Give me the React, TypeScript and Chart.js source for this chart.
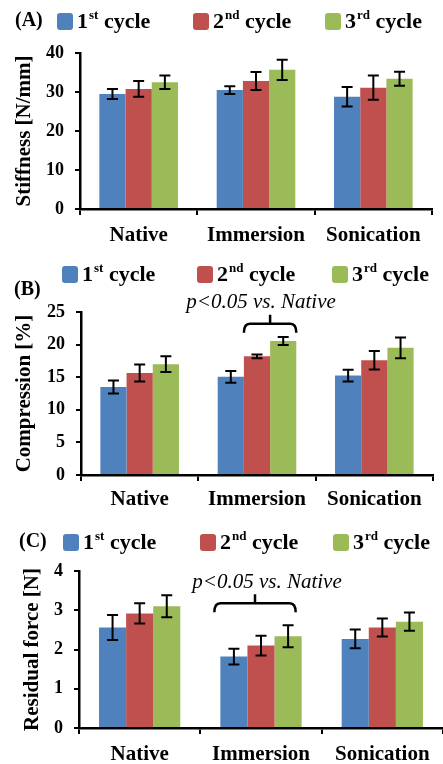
import React, { useEffect, useRef } from 'react';
import { Chart, registerables } from 'chart.js';
Chart.register(...registerables);

const SERIF = "'Liberation Serif', 'Times New Roman', serif";

const categories = ['Native', 'Immersion', 'Sonication'];
const cycleMain = ['1', '2', '3'];
const cycleSup = ['st', 'nd', 'rd'];
const cycleRest = ' cycle';
const seriesColors = ['#4F81BD', '#C0504D', '#9BBB59'];

// (A) Stiffness [N/mm]
const stiffCycle1 = [29.5, 30.5, 28.8];
const stiffCycle2 = [30.8, 32.8, 31.1];
const stiffCycle3 = [32.5, 35.7, 33.4];
const stiffErr1 = [1.3, 1.0, 2.5];
const stiffErr2 = [2.0, 2.3, 3.1];
const stiffErr3 = [1.7, 2.6, 1.8];
const stiffTicks = [0, 10, 20, 30, 40];

// (B) Compression [%]
const compCycle1 = [13.5, 15.05, 15.25];
const compCycle2 = [15.65, 18.2, 17.6];
const compCycle3 = [17.0, 20.55, 19.5];
const compErr1 = [1.0, 0.9, 0.9];
const compErr2 = [1.3, 0.3, 1.4];
const compErr3 = [1.2, 0.6, 1.6];
const compTicks = [0, 5, 10, 15, 20, 25];

// (C) Residual force [N]
const resCycle1 = [2.56, 1.82, 2.27];
const resCycle2 = [2.92, 2.1, 2.56];
const resCycle3 = [3.1, 2.34, 2.71];
const resErr1 = [0.32, 0.2, 0.24];
const resErr2 = [0.26, 0.25, 0.23];
const resErr3 = [0.28, 0.28, 0.23];
const resTicks = [0, 1, 2, 3, 4];

const annotationText = 'p<0.05 vs. Native';

type PanelSpec = {
  tag: string;
  title: string;
  top: number;
  height: number;
  area: { top: number; bottom: number; left: number; right: number };
  ticks: number[];
  values: number[][];
  errors: number[][];
  tagPos: { x: number; y: number };
  legendY: number;
  legendX: number[];
  titleX: number;
  labelPad: number;
  annot?: { cat: number; from: number; to: number; y: number; dx: number; shiftX: number };
};

const panels: PanelSpec[] = [
  {
    tag: '(A)', title: 'Stiffness [N/mm]', top: 0, height: 245,
    area: { top: 53, bottom: 209, left: 80, right: 432 },
    ticks: stiffTicks,
    values: [stiffCycle1, stiffCycle2, stiffCycle3],
    errors: [stiffErr1, stiffErr2, stiffErr3],
    tagPos: { x: 15, y: 21 }, legendY: 21, legendX: [57, 193, 325], titleX: 25, labelPad: 8,
  },
  {
    tag: '(B)', title: 'Compression [%]', top: 245, height: 267,
    area: { top: 67, bottom: 230, left: 81, right: 433 },
    ticks: compTicks,
    values: [compCycle1, compCycle2, compCycle3],
    errors: [compErr1, compErr2, compErr3],
    tagPos: { x: 14, y: 45 }, legendY: 29, legendX: [62, 197, 332], titleX: 25, labelPad: 6,
    annot: { cat: 1, from: 1, to: 2, y: 23.2, dx: -9, shiftX: 0 },
  },
  {
    tag: '(C)', title: 'Residual force [N]', top: 512, height: 252,
    area: { top: 59, bottom: 216, left: 79, right: 443 },
    ticks: resTicks,
    values: [resCycle1, resCycle2, resCycle3],
    errors: [resErr1, resErr2, resErr3],
    tagPos: { x: 19, y: 30 }, legendY: 30, legendX: [63, 200, 333], titleX: 33, labelPad: 8,
    annot: { cat: 1, from: 0, to: 2, y: 3.18, dx: 12, shiftX: -6 },
  },
];

function makePlugin(spec: PanelSpec) {
  return {
    id: 'panelExtras' + spec.tag,
    afterDatasetsDraw(chart: any) {
      const ctx = chart.ctx;
      const yScale = chart.scales.y;
      ctx.save();
      ctx.strokeStyle = '#000';
      ctx.lineWidth = 2;
      spec.values.forEach((vals, di) => {
        const meta = chart.getDatasetMeta(di);
        meta.data.forEach((el: any, ci: number) => {
          const v = vals[ci];
          const e = spec.errors[di][ci];
          const yt = yScale.getPixelForValue(v + e);
          const yb = yScale.getPixelForValue(v - e);
          ctx.beginPath();
          ctx.moveTo(el.x, yt);
          ctx.lineTo(el.x, yb);
          ctx.moveTo(el.x - 5.5, yt);
          ctx.lineTo(el.x + 5.5, yt);
          ctx.moveTo(el.x - 5.5, yb);
          ctx.lineTo(el.x + 5.5, yb);
          ctx.stroke();
        });
      });
      ctx.restore();
    },
    afterDraw(chart: any) {
      const ctx = chart.ctx;
      ctx.save();
      // tag
      ctx.fillStyle = '#000';
      ctx.textBaseline = 'middle';
      ctx.textAlign = 'left';
      ctx.font = `bold 20px ${SERIF}`;
      ctx.fillText(spec.tag, spec.tagPos.x, spec.tagPos.y);
      // legend
      spec.legendX.forEach((lx, i) => {
        const y = spec.legendY;
        ctx.fillStyle = seriesColors[i];
        ctx.beginPath();
        (ctx as any).roundRect(lx, y - 8, 16, 17, 3);
        ctx.fill();
        ctx.fillStyle = '#000';
        let x = lx + 20;
        ctx.font = `bold 22px ${SERIF}`;
        ctx.fillText(cycleMain[i], x, y + 1);
        x += ctx.measureText(cycleMain[i]).width + 1;
        ctx.font = `bold 13px ${SERIF}`;
        ctx.fillText(cycleSup[i], x, y - 5);
        x += ctx.measureText(cycleSup[i]).width;
        ctx.font = `bold 22px ${SERIF}`;
        ctx.fillText(cycleRest, x, y + 1);
      });
      // annotation
      if (spec.annot) {
        const a = spec.annot;
        const yScale = chart.scales.y;
        const e1 = chart.getDatasetMeta(a.from).data[a.cat] as any;
        const e2 = chart.getDatasetMeta(a.to).data[a.cat] as any;
        const x1 = e1.x - e1.width / 2 + a.shiftX;
        const x2 = e2.x + e2.width / 2 + a.shiftX;
        const y = yScale.getPixelForValue(a.y);
        const cx = (x1 + x2) / 2;
        ctx.strokeStyle = '#000';
        ctx.lineWidth = 2.5;
        ctx.beginPath();
        ctx.moveTo(x1, y + 9);
        ctx.quadraticCurveTo(x1, y, x1 + 6, y);
        ctx.lineTo(x2 - 6, y);
        ctx.quadraticCurveTo(x2, y, x2, y + 9);
        ctx.moveTo(cx, y);
        ctx.lineTo(cx, y - 9);
        ctx.stroke();
        ctx.font = `italic 21px ${SERIF}`;
        ctx.textAlign = 'center';
        ctx.fillText(annotationText, cx + a.dx, y - 21);
      }
      ctx.restore();
    },
  };
}

function Panel({ spec }: { spec: PanelSpec }) {
  const ref = useRef<HTMLCanvasElement>(null);
  useEffect(() => {
    if (!ref.current) return;
    const { area, height, ticks } = spec;
    const chart = new Chart(ref.current, {
      type: 'bar',
      data: {
        labels: categories,
        datasets: spec.values.map((vals, i) => ({
          label: cycleMain[i] + cycleSup[i] + cycleRest,
          data: vals,
          backgroundColor: seriesColors[i],
          borderWidth: 0,
          categoryPercentage: 0.67,
          barPercentage: 1.0,
        })),
      },
      options: {
        responsive: false,
        animation: false,
        events: [],
        layout: { padding: { top: area.top, left: 0, right: 443 - area.right, bottom: 0 } },
        plugins: { legend: { display: false }, tooltip: { enabled: false }, title: { display: false } },
        scales: {
          x: {
            grid: { display: true, drawOnChartArea: false, drawTicks: true, tickLength: 6, color: '#000', lineWidth: 2, offset: true },
            border: { display: true, color: '#000', width: 2.5 },
            ticks: { color: '#000', font: { family: SERIF, size: 21, weight: 'bold' }, padding: spec.labelPad, maxRotation: 0 },
            afterFit: (s: any) => { s.height = height - area.bottom; },
          },
          y: {
            min: ticks[0],
            max: ticks[ticks.length - 1],
            afterBuildTicks: (s: any) => { s.ticks = ticks.map((v) => ({ value: v })); },
            grid: { display: true, drawOnChartArea: false, drawTicks: true, tickLength: 5, color: '#000', lineWidth: 2 },
            border: { display: true, color: '#000', width: 2.5 },
            ticks: { color: '#000', font: { family: SERIF, size: 18, weight: 'bold' }, padding: 11 },
            title: {
              display: true, text: spec.title, color: '#000',
              font: { family: SERIF, size: 21, weight: 'bold' },
              padding: { top: spec.titleX - 12.6, bottom: 0 },
            },
            afterFit: (s: any) => { s.width = area.left; },
          },
        },
      },
      plugins: [makePlugin(spec)],
    } as any);
    return () => chart.destroy();
  }, [spec]);
  return (
    <canvas
      ref={ref}
      width={443}
      height={spec.height}
      style={{ position: 'absolute', left: 0, top: spec.top, width: 443, height: spec.height, display: 'block' }}
    />
  );
}

export default function App() {
  return (
    <div style={{ position: 'absolute', left: 0, top: 0, width: 443, height: 764, background: '#fff', overflow: 'hidden' }}>
      {panels.map((p) => (
        <Panel key={p.tag} spec={p} />
      ))}
    </div>
  );
}
